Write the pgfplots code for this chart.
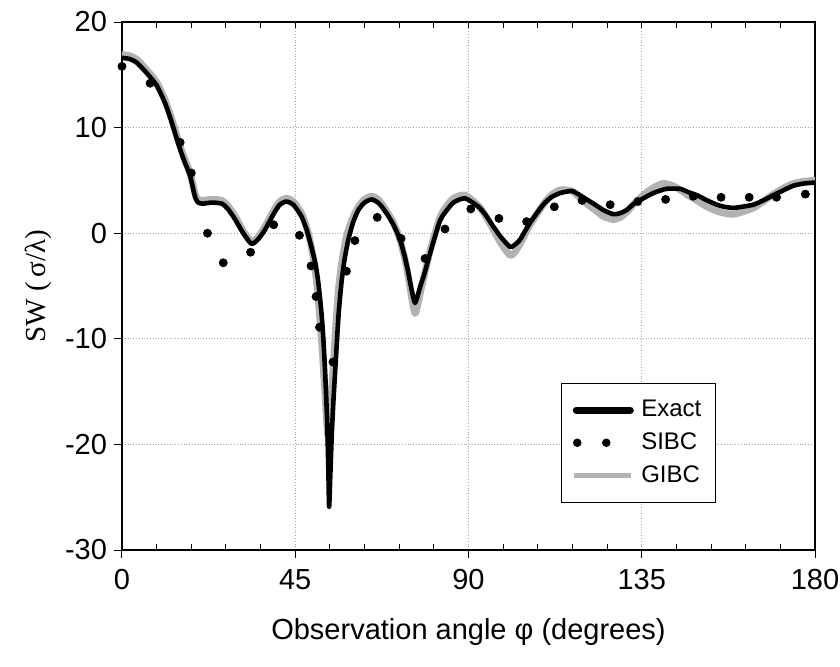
\documentclass[border=0pt]{standalone}
\usepackage{pgfplots}
\pgfplotsset{compat=1.18}
\usepackage{pgfplotstable}
\usepackage{fontspec}
\setmainfont{Liberation Sans}
\newfontfamily\timesf{Liberation Serif}

% Exact solution
\pgfplotstableread{
x y
0 16.6
2 16.5
4 16.1
6.8 15.0
9 14.0
11.2 12.3
13 10.4
14.6 8.5
16 7.0
17.7 5.4
19.0 3.4
19.8 2.9
21 2.8
23.3 2.9
25.9 2.8
27.5 2.3
29.4 1.3
31.5 0.0
33.6 -1.0
35.3 -0.6
37.1 0.3
39.5 1.9
41 2.7
42.7 3.0
44.5 2.7
46.6 1.6
48 0.3
49.2 -1.3
50.3 -3.0
51.0 -4.7
51.8 -7.5
52.3 -10.0
52.8 -13.5
53.3 -18.0
53.6 -22.5
53.8 -25.9
54.1 -23.0
54.5 -19.0
54.9 -16.0
55.7 -11.0
56.3 -7.5
57.0 -4.7
57.8 -2.5
58.8 -0.6
60 1.0
61.4 2.2
63 2.9
64.9 3.2
66.8 2.8
68.7 1.9
70.5 0.8
72.2 -0.6
73.5 -2.3
74.4 -3.8
75.3 -5.5
76.1 -6.6
76.8 -5.9
77.5 -5.0
78.5 -3.9
79.8 -2.2
80.9 -0.8
82.6 1.2
84 2.0
86.1 2.9
89.1 3.3
92.6 2.5
94.5 1.7
96.5 0.6
98.5 -0.4
100.8 -1.3
102 -1.1
103.4 -0.6
106 1.0
109.4 2.7
111.5 3.4
113.8 3.8
116.8 4.0
118.5 3.7
120.7 3.2
122.9 2.7
125 2.2
127.6 1.8
129.4 1.9
131.1 2.2
133 2.8
135.4 3.3
138 3.8
141.4 4.2
144.9 4.2
147 3.9
149.3 3.6
152 3.1
154.5 2.7
156.5 2.5
158.8 2.4
161 2.5
164 2.7
166.5 3.1
169.2 3.6
172 4.1
174.4 4.5
177 4.7
180 4.8
}\exact

% GIBC
\pgfplotstableread{
x y
0 16.9
2 16.8
4 16.4
6.8 15.3
9 14.3
11.2 12.6
13 10.7
14.6 8.8
16 7.3
17.7 5.7
19.0 3.7
19.8 3.2
21 3.1
23.3 3.2
25.9 3.1
27.5 2.6
29.4 1.6
31.5 0.2
33.6 -0.8
35.3 -0.4
37.1 0.6
39.5 2.2
41 3.0
42.7 3.3
44.5 3.0
46.6 1.9
48 0.5
49 -1.0
50 -3.0
50.8 -5.5
51.5 -8.5
52.1 -11.5
52.7 -15.0
53.2 -18.0
53.6 -19.5
54.0 -18.5
54.4 -15.5
54.9 -12.5
55.5 -9.0
56.2 -5.5
57.0 -3.0
58.3 -0.3
60 1.5
61.4 2.5
63 3.2
64.9 3.5
66.8 3.1
68.7 2.1
70.5 1.0
72.2 -0.6
73.5 -2.5
74.4 -4.2
75.3 -6.2
76.1 -7.6
76.8 -6.8
77.5 -5.6
78.5 -4.0
79.8 -2.0
80.9 -0.5
82.6 1.5
84 2.4
86.1 3.3
89.1 3.6
92.6 2.6
94.5 1.6
96.5 0.3
98.5 -1.0
100.8 -2.1
102 -1.8
103.4 -1.0
106 0.8
109.4 2.7
111.5 3.6
113.8 4.1
116.8 4.0
118.5 3.5
120.7 2.8
122.9 2.2
125 1.6
127.6 1.3
129.4 1.5
131.1 2.0
133 2.8
135.4 3.6
138 4.3
140.5 4.7
143 4.5
145 4.1
147 3.6
149.3 3.1
152 2.5
154.5 2.1
156.5 1.9
158.8 1.8
161 2.0
164 2.4
166.5 3.0
169.2 3.7
172 4.3
174.4 4.7
177 4.9
180 5.0
}\gibc

% SIBC
\pgfplotstableread{
x y
0 15.8
7.3 14.2
15.1 8.6
18.0 5.7
22.2 0.0
26.3 -2.8
33.4 -1.8
39.4 0.8
46.1 -0.2
49.1 -3.1
50.4 -6.0
51.3 -8.9
54.8 -12.2
58.3 -3.6
60.5 -0.7
66.3 1.5
72.5 -0.5
78.7 -2.4
83.9 0.4
90.6 2.3
97.9 1.4
105.1 1.1
112.3 2.5
119.5 3.1
126.8 2.7
134.0 3.0
141.2 3.2
148.4 3.5
155.6 3.4
162.9 3.4
170.0 3.4
177.5 3.7
}\sibc

\begin{document}
\begin{tikzpicture}
\useasboundingbox (-61pt,-58pt) rectangle (359pt,275pt);
\begin{axis}[
    scale only axis,
    width=346.5pt,
    height=264pt,
    xmin=0, xmax=180,
    ymin=-30, ymax=20,
    xtick={0,45,...,180},
    minor x tick num=4,
    ytick={-30,-20,...,20},
    xtick pos=bottom,
    ytick pos=left,
    tick align=outside,
    major tick length=4pt,
    minor tick length=-3pt,
    every tick/.style={black, line width=0.5pt},
    axis line style={line width=0.8pt},
    xmajorgrids, ymajorgrids,
    major grid style={densely dotted, black!35, line width=0.4pt},
    font=\fontsize{14.5}{16}\selectfont,
    /pgf/number format/assume math mode=true,
    xticklabel style={yshift=-2pt},
    xlabel={Observation angle φ (degrees)},
    ylabel={\timesf SW (\,σ/λ)},
    xlabel style={at={(axis description cs:0.5,-0.155)}, anchor=center},
    ylabel style={at={(axis description cs:-0.121,0.5)}, anchor=center},
    legend style={at={(rel axis cs:0.857,0.089)}, anchor=south east,
        draw=black, line width=0.6pt, fill=white,
        font=\fontsize{12}{14}\selectfont,
        inner xsep=5pt, inner ysep=6.5pt, row sep=2.5pt},
    legend cell align=left,
]
\addplot[forget plot, black!30, line width=3.5pt, line join=round, line cap=round, smooth, tension=0.4] table[x=x,y=y] {\gibc};
\addplot[forget plot, black, line width=2.3pt, line join=round, line cap=round, smooth, tension=0.4] table[x=x,y=y] {\exact};
\addplot[forget plot, only marks, mark=*, mark size=2pt, black] table[x=x,y=y] {\sibc};

\pgfplotsinvokeforeach{9,18,...,171}{\draw[line width=0.5pt] (axis cs:#1,20) -- ++(0pt,-3pt);}

\addlegendimage{legend image code/.code={\path[draw=none] (0pt,0pt) -- (31.5pt,0pt); \draw[black, line width=3.5pt, line cap=round] (1pt,0pt) -- (28pt,0pt);}}
\addlegendentry{Exact}
\addlegendimage{legend image code/.code={\path[draw=none] (0pt,0pt) -- (31.5pt,0pt); \fill[black] (1.5pt,0pt) circle (1.8pt); \fill[black] (16pt,0pt) circle (1.8pt);}}
\addlegendentry{SIBC}
\addlegendimage{legend image code/.code={\path[draw=none] (0pt,0pt) -- (31.5pt,0pt); \draw[black!30, line width=2.5pt] (0pt,0pt) -- (28.5pt,0pt);}}
\addlegendentry{GIBC}
\end{axis}
\end{tikzpicture}
\end{document}
